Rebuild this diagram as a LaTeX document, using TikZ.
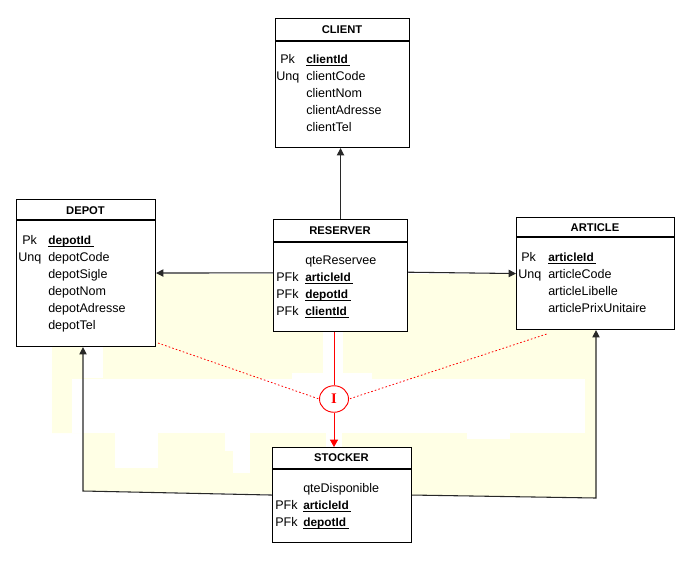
\documentclass[tikz,border=0pt]{standalone}
\usepackage{fontspec}
\setmainfont{Liberation Sans}
\newfontfamily\serifI{Liberation Serif}
\usetikzlibrary{arrows.meta,shapes.geometric,calc}
\definecolor{cream}{RGB}{255,255,229}
\definecolor{lnkcol}{RGB}{40,40,40}
\newcommand\ukey[1]{\sbox0{\fontsize{8.9}{10}\selectfont\bfseries #1}\rlap{\rule[-2.3pt]{\dimexpr\wd0+1.8pt\relax}{0.75pt}}\usebox0}
\newcommand\attr[4]{\node[txt] (#1) at (#2,#3) {#4};}
\begin{document}
\begin{tikzpicture}[x=0.75pt,y=-0.75pt,
  ent/.style={draw=black, line width=0.8pt, fill=white, inner sep=0pt, anchor=north west},
  txt/.style={anchor=base west, inner sep=0pt, font=\fontsize{9.4}{11}\selectfont},
  ttl/.style={anchor=base, inner sep=0pt, font=\fontsize{8.4}{10}\selectfont\bfseries},
  hdr/.style={draw=black, line width=0.8pt},
  lnk/.style={draw=lnkcol, line width=0.8pt},
  arr/.style={-{Triangle[length=5.5pt,width=5.5pt]}},
  rel/.style={draw=red, line width=0.7pt},
  reddash/.style={draw=red, line width=0.6pt, dash pattern=on 1.2pt off 1.6pt}]
\useasboundingbox (0,0) rectangle (696,576);
% background
\fill[cream] (52,274) -- (596,274) -- (596,498) -- (411,495) -- (272,494) -- (83,491) -- (83,433) -- (52,433) -- cycle;
\fill[white] (83,347) rectangle (103,378);
\fill[white] (72,379) rectangle (585,433);
\fill[white] (292,373) rectangle (372,379);
\fill[white] (323,331) rectangle (343,379);
\fill[white] (115,433) rectangle (158,468);
\fill[white] (225,433) rectangle (250,451);
\fill[white] (233,451) rectangle (250,473);
\fill[white] (467,433) rectangle (510,439);
\fill[white] (326,412) rectangle (342,447);
% boxes
\node[ent, minimum width=100.5pt, minimum height=96.75pt] (client) at (275,18) {};
\node[ent, minimum width=104.25pt, minimum height=110.25pt] (depot) at (16,199) {};
\node[ent, minimum width=100.5pt, minimum height=84pt] (reserver) at (273,219) {};
\node[ent, minimum width=118.5pt, minimum height=84pt] (article) at (516,217) {};
\node[ent, minimum width=104.25pt, minimum height=71.25pt] (stocker) at (272,447) {};
\draw[hdr] ([yshift=-17.25pt]client.north west) -- ([yshift=-17.25pt]client.north east);
\draw[hdr] ([yshift=-15.75pt]depot.north west) -- ([yshift=-15.75pt]depot.north east);
\draw[hdr] ([yshift=-17.25pt]reserver.north west) -- ([yshift=-17.25pt]reserver.north east);
\draw[hdr] ([yshift=-15pt]article.north west) -- ([yshift=-15pt]article.north east);
\draw[hdr] ([yshift=-16.5pt]stocker.north west) -- ([yshift=-16.5pt]stocker.north east);
% titles
\node[ttl] (tc) at (342,33) {CLIENT};
\node[ttl] (td) at (85.5,214) {DEPOT};
\node[ttl] (tr) at (340,234) {RESERVER};
\node[ttl] (ta) at (595,231) {ARTICLE};
\node[ttl] (ts) at (341.5,461.5) {STOCKER};
% CLIENT rows
\attr{ck1}{280}{63}{Pk}
\attr{ck2}{276}{80}{Unq}
\attr{ca1}{306}{63}{\ukey{clientId}}
\attr{ca2}{306}{80}{clientCode}
\attr{ca3}{306}{97}{clientNom}
\attr{ca4}{306}{114}{clientAdresse}
\attr{ca5}{306}{131}{clientTel}
% DEPOT rows
\attr{dk1}{22}{244}{Pk}
\attr{dk2}{18}{261}{Unq}
\attr{da1}{48}{244}{\ukey{depotId}}
\attr{da2}{48}{261}{depotCode}
\attr{da3}{48}{278}{depotSigle}
\attr{da4}{48}{295}{depotNom}
\attr{da5}{48}{312}{depotAdresse}
\attr{da6}{48}{329}{depotTel}
% RESERVER rows
\attr{ra0}{305}{264}{qteReservee}
\attr{rk1}{276}{281}{PFk}
\attr{rk2}{276}{298}{PFk}
\attr{rk3}{276}{315}{PFk}
\attr{ra1}{305}{281}{\ukey{articleId}}
\attr{ra2}{305}{298}{\ukey{depotId}}
\attr{ra3}{305}{315}{\ukey{clientId}}
% ARTICLE rows
\attr{ak1}{521}{261}{Pk}
\attr{ak2}{518}{278}{Unq}
\attr{aa1}{548}{261}{\ukey{articleId}}
\attr{aa2}{548}{278}{articleCode}
\attr{aa3}{548}{295}{articleLibelle}
\attr{aa4}{548}{312}{articlePrixUnitaire}
% STOCKER rows
\attr{sa0}{303}{492}{qteDisponible}
\attr{sk1}{275}{509}{PFk}
\attr{sk2}{275}{526}{PFk}
\attr{sa1}{303}{509}{\ukey{articleId}}
\attr{sa2}{303}{526}{\ukey{depotId}}
% connectors
\draw[lnk, arr] (reserver.north) -- (reserver.north |- client.south);
\draw[lnk, arr] ([yshift=2pt]reserver.west) -- (depot.east);
\draw[lnk, arr] ([yshift=2.5pt]reserver.east) -- (article.west);
\coordinate (cl) at (83,491);
\draw[lnk, arr] (stocker.west) -- (cl) -- (cl |- depot.south);
\coordinate (cr) at (596,498);
\draw[lnk, arr] (stocker.east) -- (cr) -- (cr |- article.south);
% inheritance
\node[ellipse, draw=red, line width=0.7pt, fill=white, minimum width=21.75pt, minimum height=19.9pt, inner sep=0pt, text=red, font=\serifI\bfseries\fontsize{11}{12}\selectfont] (inh) at (334,399) {I};
\draw[rel] (inh.north) -- (inh.north |- reserver.south);
\draw[rel, -{Triangle[length=5.5pt,width=6pt]}] (inh.south) -- (inh.south |- stocker.north);
\draw[reddash] ([xshift=1.5pt,yshift=3pt]depot.south east) -- (inh.west);
\draw[reddash] ([xshift=-36.75pt,yshift=-3pt]article.south) -- (inh.east);
\end{tikzpicture}
\end{document}
